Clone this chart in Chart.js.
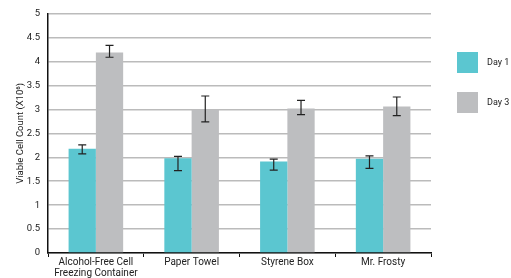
<!DOCTYPE html>
<html>
<head>
<meta charset="utf-8">
<script src="https://cdn.jsdelivr.net/npm/chart.js@4/dist/chart.umd.min.js"></script>
<style>
  html, body { margin: 0; padding: 0; background: #fff; }
  #wrap { width: 511px; height: 278px; }
</style>
</head>
<body>
<div id="wrap"><canvas id="cellChart" width="511" height="278"></canvas></div>
<script>
const categories = [['Alcohol-Free Cell', 'Freezing Container'], 'Paper Towel', 'Styrene Box', 'Mr. Frosty'];
const yTicks = [0, 0.5, 1, 1.5, 2, 2.5, 3, 3.5, 4, 4.5, 5];

const day1 = [2.18, 1.98, 1.91, 1.97];
const day1Low = [2.07, 1.72, 1.73, 1.77];
const day1High = [2.26, 2.02, 1.96, 2.03];

const day3 = [4.19, 3.0, 3.02, 3.06];
const day3Low = [4.09, 2.74, 2.89, 2.87];
const day3High = [4.34, 3.28, 3.19, 3.26];

const fontFamily = 'Roboto, "Liberation Sans", sans-serif';

// error bars drawn on top of each bar through the y scale
const errorBars = {
  id: 'errorBars',
  afterDatasetsDraw(chart) {
    const { ctx } = chart;
    const yScale = chart.scales.y;
    chart.data.datasets.forEach((ds, di) => {
      const meta = chart.getDatasetMeta(di);
      meta.data.forEach((bar, i) => {
        const yTop = yScale.getPixelForValue(ds.errHigh[i]);
        const yBot = yScale.getPixelForValue(ds.errLow[i]);
        const x = bar.x;
        ctx.save();
        ctx.strokeStyle = '#222';
        ctx.lineWidth = 1.2;
        ctx.beginPath();
        ctx.moveTo(x, yTop); ctx.lineTo(x, yBot);
        ctx.moveTo(x - 4, yTop); ctx.lineTo(x + 4, yTop);
        ctx.moveTo(x - 4, yBot); ctx.lineTo(x + 4, yBot);
        ctx.stroke();
        ctx.restore();
      });
    });
  },
};

// legend on the right, square swatches
const sideLegend = {
  id: 'sideLegend',
  afterDraw(chart) {
    const { ctx } = chart;
    const x0 = 457;
    const tops = [52, 92];
    ctx.save();
    chart.data.datasets.forEach((ds, i) => {
      ctx.fillStyle = ds.backgroundColor;
      ctx.fillRect(x0, tops[i], 21, 21);
      ctx.fillStyle = '#222';
      ctx.font = '9px ' + fontFamily;
      ctx.textBaseline = 'middle';
      ctx.textAlign = 'left';
      ctx.fillText(ds.label, x0 + 30, tops[i] + 11);
    });
    ctx.restore();
  },
};

new Chart(document.getElementById('cellChart').getContext('2d'), {
  type: 'bar',
  data: {
    labels: categories,
    datasets: [
      {
        label: 'Day 1',
        data: day1,
        errLow: day1Low,
        errHigh: day1High,
        backgroundColor: '#5BC6D0',
        categoryPercentage: 0.57,
        barPercentage: 1.0,
      },
      {
        label: 'Day 3',
        data: day3,
        errLow: day3Low,
        errHigh: day3High,
        backgroundColor: '#BDBEC0',
        categoryPercentage: 0.57,
        barPercentage: 1.0,
      },
    ],
  },
  options: {
    responsive: false,
    animation: false,
    layout: {
      padding: { left: 0, top: 11, right: 80, bottom: 0 },
    },
    plugins: {
      legend: { display: false },
      tooltip: { enabled: false },
    },
    scales: {
      x: {
        afterFit(scale) { scale.height = 25; },
        grid: {
          offset: true,
          drawOnChartArea: false,
          drawTicks: true,
          tickLength: 4,
          color: '#111',
        },
        border: { color: '#111', width: 1.5 },
        ticks: {
          color: '#222',
          padding: 0,
          maxRotation: 0,
          autoSkip: false,
          font: { family: fontFamily, size: 10, lineHeight: 1.1 },
        },
      },
      y: {
        min: 0,
        max: 5,
        afterFit(scale) { scale.width = 48; },
        afterBuildTicks(scale) { scale.ticks = yTicks.map(v => ({ value: v })); },
        grid: {
          color: '#BBBBBB',
          lineWidth: 1.5,
          drawTicks: false,
        },
        border: { color: '#111', width: 1.5 },
        ticks: {
          color: '#222',
          padding: 8,
          font: { family: fontFamily, size: 9.5 },
          callback: (v) => String(v),
        },
        title: {
          display: true,
          text: 'Viable Cell Count (X10⁶)',
          color: '#222',
          padding: { top: 15, bottom: 0 },
          font: { family: fontFamily, size: 9.5 },
        },
      },
    },
  },
  plugins: [errorBars, sideLegend],
});
</script>
</body>
</html>
